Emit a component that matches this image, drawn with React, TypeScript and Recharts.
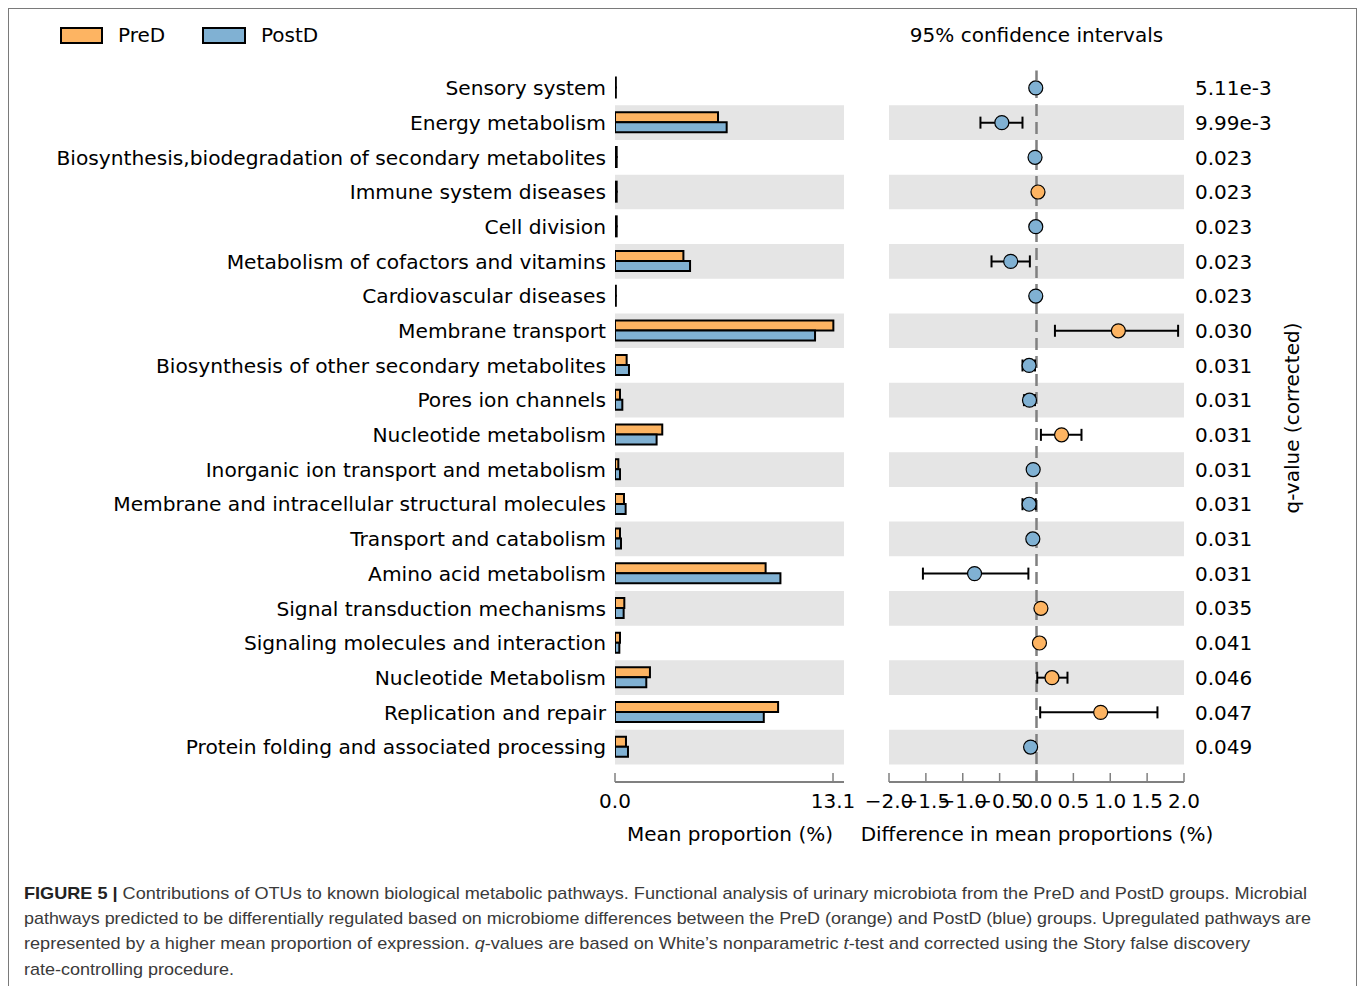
import React from 'react';
import {
  BarChart,
  Bar,
  XAxis,
  YAxis,
  ComposedChart,
  Scatter,
  ErrorBar,
  ReferenceArea,
  ReferenceLine,
} from 'recharts';

// pathway categories, top to bottom
const pathways = [
  'Sensory system',
  'Energy metabolism',
  'Biosynthesis,biodegradation of secondary metabolites',
  'Immune system diseases',
  'Cell division',
  'Metabolism of cofactors and vitamins',
  'Cardiovascular diseases',
  'Membrane transport',
  'Biosynthesis of other secondary metabolites',
  'Pores ion channels',
  'Nucleotide metabolism',
  'Inorganic ion transport and metabolism',
  'Membrane and intracellular structural molecules',
  'Transport and catabolism',
  'Amino acid metabolism',
  'Signal transduction mechanisms',
  'Signaling molecules and interaction',
  'Nucleotide Metabolism',
  'Replication and repair',
  'Protein folding and associated processing',
];

// mean proportion (%) per group
const preD = [0.05, 6.19, 0.1, 0.1, 0.1, 4.11, 0.05, 13.12, 0.7, 0.3, 2.84, 0.2, 0.54, 0.3, 9.05, 0.56, 0.3, 2.1, 9.8, 0.66];
const postD = [0.05, 6.71, 0.1, 0.1, 0.1, 4.51, 0.05, 12.02, 0.84, 0.44, 2.5, 0.3, 0.64, 0.36, 9.94, 0.52, 0.26, 1.88, 8.94, 0.78];

// difference in mean proportions and 95% CI bounds
const meanDiff = [-0.01, -0.47, -0.02, 0.02, -0.01, -0.35, -0.01, 1.11, -0.1, -0.095, 0.34, -0.045, -0.1, -0.05, -0.84, 0.06, 0.04, 0.21, 0.87, -0.08];
const ciLow = [-0.02, -0.76, -0.03, 0.01, -0.02, -0.61, -0.02, 0.25, -0.19, -0.17, 0.06, -0.07, -0.19, -0.07, -1.54, 0.04, 0.02, 0.01, 0.05, -0.13];
const ciHigh = [0.0, -0.19, -0.01, 0.03, -0.005, -0.09, -0.005, 1.92, -0.02, -0.02, 0.61, -0.02, -0.01, -0.03, -0.11, 0.08, 0.06, 0.42, 1.64, -0.02];

const qValues = ['5.11e-3', '9.99e-3', '0.023', '0.023', '0.023', '0.023', '0.023', '0.030', '0.031', '0.031', '0.031', '0.031', '0.031', '0.031', '0.031', '0.035', '0.041', '0.046', '0.047', '0.049'];

const meanTicks = [0, 13.1];
const diffTicks = [-2, -1.5, -1, -0.5, 0, 0.5, 1, 1.5, 2];

const ORANGE = '#FDB462';
const BLUE = '#80B1D3';
const BAND = '#E5E5E5';
const AXIS = '#808080';
const FONT = '"DejaVu Sans", sans-serif';

const rows = pathways.map((name, i) => ({
  name,
  pre: preD[i],
  post: postD[i],
  diff: meanDiff[i],
  err: [meanDiff[i] - ciLow[i], ciHigh[i] - meanDiff[i]],
}));

const PLOT_TOP = 70.6;
const CHART_H = 830;
const X_AXIS_H = 30;
const BOTTOM = CHART_H - 782 - X_AXIS_H;

const fmt = (v: number) => (v < 0 ? '\u2212' + Math.abs(v).toFixed(1) : v.toFixed(1));

const AxisTick = (props: any) => {
  const { x, y, payload } = props;
  return (
    <g>
      <line x1={x} x2={x} y1={y} y2={y - 9} stroke={AXIS} strokeWidth={1.5} />
      <text x={x} y={y + 19} dy="0.35em" textAnchor="middle" fontFamily={FONT} fontSize={20} fill="#000">
        {fmt(payload.value)}
      </text>
    </g>
  );
};

const PathwayTick = (props: any) => {
  const { x, y, payload } = props;
  return (
    <text x={x} y={y} dy="0.36em" textAnchor="end" fontFamily={FONT} fontSize={20.2} fill="#000">
      {payload.value}
    </text>
  );
};

const QTick = (props: any) => {
  const { x, y, index } = props;
  return (
    <text x={x} y={y} dy="0.36em" textAnchor="start" fontFamily={FONT} fontSize={20} fill="#000">
      {qValues[index]}
    </text>
  );
};

const DiffDot = (props: any) => {
  const { cx, cy, payload } = props;
  return <circle cx={cx} cy={cy} r={7} fill={payload.diff > 0 ? ORANGE : BLUE} stroke="#000" strokeWidth={1.2} />;
};

const bands = (ids: string) =>
  pathways
    .filter((_, i) => i % 2 === 1)
    .map((p) => (
      <ReferenceArea key={ids + p} y1={p} y2={p} fill={BAND} fillOpacity={1} stroke="none" ifOverflow="visible" />
    ));

const centered = (x: number, y: number, extra: React.CSSProperties = {}): React.CSSProperties => ({
  position: 'absolute',
  left: x,
  top: y,
  transform: 'translate(-50%, -50%)',
  whiteSpace: 'nowrap',
  fontFamily: FONT,
  fontSize: 20,
  color: '#000',
  ...extra,
});

const App = () => {
  return (
    <div style={{ position: 'absolute', left: 0, top: 0, width: 1358, height: 986, overflow: 'hidden', background: '#fff' }}>
      <div style={{ position: 'absolute', left: 8, top: 8, width: 1347, height: 1000, border: '1px solid #7a7a7a' }} />

      {/* legend */}
      <div style={{ position: 'absolute', left: 60, top: 27, width: 43, height: 17, boxSizing: 'border-box', background: ORANGE, border: '2px solid #000' }} />
      <div style={{ ...centered(0, 35), transform: 'translate(0, -50%)', left: 118 }}>PreD</div>
      <div style={{ position: 'absolute', left: 202, top: 27, width: 44, height: 17, boxSizing: 'border-box', background: BLUE, border: '2px solid #000' }} />
      <div style={{ ...centered(0, 35), transform: 'translate(0, -50%)', left: 261 }}>PostD</div>

      <div style={centered(1036.5, 35)}>95% confidence intervals</div>

      {/* mean proportion bars */}
      <div style={{ position: 'absolute', left: 0, top: 0 }}>
        <BarChart
          layout="vertical"
          width={860}
          height={CHART_H}
          data={rows}
          barGap={0}
          margin={{ top: PLOT_TOP, right: 16, bottom: BOTTOM, left: 0 }}
        >
          <XAxis
            type="number"
            domain={[0, 13.76]}
            ticks={meanTicks}
            interval={0}
            height={X_AXIS_H}
            allowDataOverflow
            tickLine={false}
            tickSize={0}
            tickMargin={0}
            axisLine={{ stroke: AXIS, strokeWidth: 2 }}
            tick={AxisTick}
          />
          <YAxis
            type="category"
            dataKey="name"
            width={615}
            interval={0}
            padding={{ top: 0, bottom: 17.6 }}
            axisLine={false}
            tickLine={false}
            tickSize={0}
            tickMargin={9}
            tick={PathwayTick}
          />
          {bands('l')}
          <Bar dataKey="pre" fill={ORANGE} stroke="#000" strokeWidth={2} barSize={10} isAnimationActive={false} />
          <Bar dataKey="post" fill={BLUE} stroke="#000" strokeWidth={2} barSize={10} isAnimationActive={false} />
        </BarChart>
      </div>

      {/* difference with confidence intervals */}
      <div style={{ position: 'absolute', left: 860, top: 0 }}>
        <ComposedChart
          layout="vertical"
          width={444}
          height={CHART_H}
          data={rows}
          margin={{ top: PLOT_TOP, right: 0, bottom: BOTTOM, left: 29 }}
        >
          <XAxis
            type="number"
            dataKey="diff"
            domain={[-2, 2]}
            ticks={diffTicks}
            interval={0}
            height={X_AXIS_H}
            allowDataOverflow
            tickLine={false}
            tickSize={0}
            tickMargin={0}
            axisLine={{ stroke: AXIS, strokeWidth: 2 }}
            tick={AxisTick}
          />
          <YAxis
            type="category"
            dataKey="name"
            scale="band"
            orientation="right"
            width={120}
            interval={0}
            padding={{ top: 0, bottom: 17.6 }}
            axisLine={false}
            tickLine={false}
            tickSize={0}
            tickMargin={11}
            tick={QTick}
          />
          {bands('r')}
          <ReferenceLine x={0} stroke={AXIS} strokeWidth={2.5} strokeDasharray="12 6" />
          <Scatter dataKey="diff" shape={DiffDot} isAnimationActive={false}>
            <ErrorBar dataKey="err" direction="x" width={6} stroke="#000" strokeWidth={2} />
          </Scatter>
        </ComposedChart>
      </div>

      <div style={centered(730, 834)}>Mean proportion (%)</div>
      <div style={centered(1037, 834)}>Difference in mean proportions (%)</div>
      <div style={centered(1292, 418, { transform: 'translate(-50%, -50%) rotate(-90deg)' })}>q-value (corrected)</div>

      {/* figure caption */}
      <svg style={{ position: 'absolute', left: 0, top: 870 }} width={1358} height={116}>
        <g fontFamily='"Liberation Sans", Arial, sans-serif' fontSize={17} fill="#3a3a3a">
          <text x={24} y={29} textLength={1283} lengthAdjust="spacingAndGlyphs">
            <tspan fontWeight="bold" fill="#222">FIGURE 5 | </tspan>
            Contributions of OTUs to known biological metabolic pathways. Functional analysis of urinary microbiota from the PreD and PostD groups. Microbial
          </text>
          <text x={24} y={54} textLength={1287} lengthAdjust="spacingAndGlyphs">
            pathways predicted to be differentially regulated based on microbiome differences between the PreD (orange) and PostD (blue) groups. Upregulated pathways are
          </text>
          <text x={24} y={79} textLength={1226} lengthAdjust="spacingAndGlyphs">
            represented by a higher mean proportion of expression. <tspan fontStyle="italic">q</tspan>-values are based on White’s nonparametric{' '}
            <tspan fontStyle="italic">t</tspan>-test and corrected using the Story false discovery
          </text>
          <text x={24} y={105} textLength={210} lengthAdjust="spacingAndGlyphs">
            rate-controlling procedure.
          </text>
        </g>
      </svg>
    </div>
  );
};

export default App;
